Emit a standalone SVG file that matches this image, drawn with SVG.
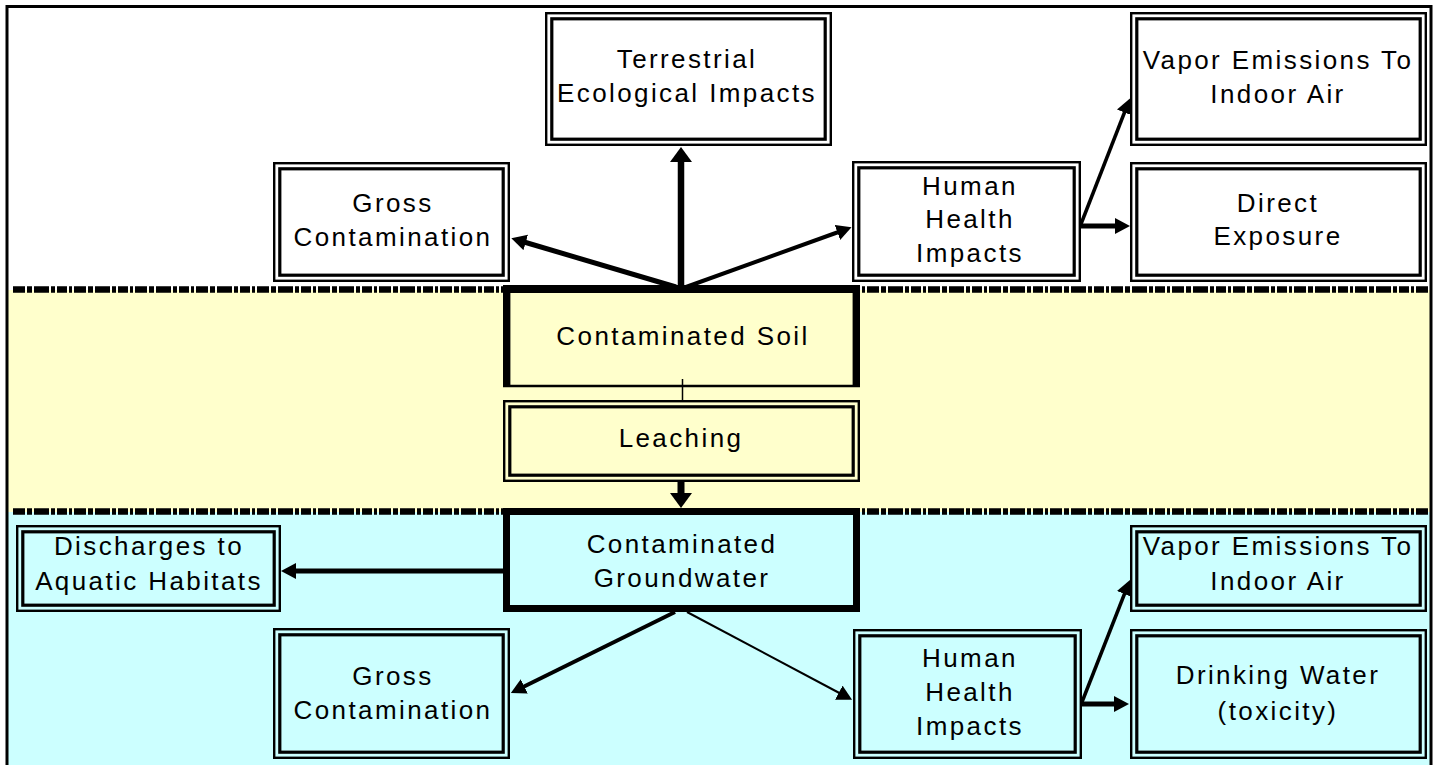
<svg xmlns="http://www.w3.org/2000/svg" width="1437" height="765" viewBox="0 0 1437 765">
<defs>
<style>
.o{fill:none;stroke:#000;stroke-width:2.4}
.i{fill:none;stroke:#000;stroke-width:3.2}
.w{fill:#fff}
.y{fill:#ffffcc}
.c{fill:#ccffff}
.t{font-family:"Liberation Sans",Arial,sans-serif;font-size:26px;letter-spacing:2.4px;text-anchor:middle;fill:#000}
.dash{fill:none;stroke:#000;stroke-width:6.5;stroke-dasharray:12 2 5 2 15 2 4 2 10 2 3 2}
.a{fill:none;stroke:#000}
</style>
<marker id="ah" markerUnits="userSpaceOnUse" markerWidth="18" markerHeight="18" refX="7" refY="8" orient="auto">
<path d="M0,0 L15,8 L0,16 z" fill="#000"/>
</marker>
<marker id="ahb" markerUnits="userSpaceOnUse" markerWidth="18" markerHeight="24" refX="7" refY="11" orient="auto">
<path d="M0,0 L15,11 L0,22 z" fill="#000"/>
</marker>
</defs>
<rect x="0" y="0" width="1437" height="765" fill="#fff"/>
<rect x="7" y="290" width="1424" height="222" class="y"/>
<rect x="7" y="512" width="1424" height="260" class="c"/>
<rect x="7" y="6.5" width="1424" height="800" fill="none" stroke="#000" stroke-width="3"/>
<line x1="13" y1="289.5" x2="1428" y2="289.5" class="dash"/>
<line x1="13" y1="511.5" x2="1428" y2="511.5" class="dash"/>

<g id="terrestrial">
<rect x="545" y="12" width="287" height="134" class="w"/>
<rect x="546.2" y="13.2" width="284.6" height="131.6" class="o"/>
<rect x="551.8" y="18.8" width="273.4" height="120.4" class="i"/>
<text class="t" x="687" y="68">Terrestrial</text>
<text class="t" x="687" y="102">Ecological Impacts</text>
</g>

<g id="gross-top">
<rect x="273" y="162" width="237" height="120" class="w"/>
<rect x="274.2" y="163.2" width="234.6" height="117.6" class="o"/>
<rect x="279.8" y="168.8" width="223.4" height="106.4" class="i"/>
<text class="t" x="393" y="212">Gross</text>
<text class="t" x="393" y="246">Contamination</text>
</g>

<g id="human-top">
<rect x="852" y="161" width="229" height="121" class="w"/>
<rect x="853.2" y="162.2" width="226.6" height="118.6" class="o"/>
<rect x="858.8" y="167.8" width="215.4" height="107.4" class="i"/>
<text class="t" x="970" y="195">Human</text>
<text class="t" x="970" y="228">Health</text>
<text class="t" x="970" y="262">Impacts</text>
</g>

<g id="vapor-top">
<rect x="1130" y="12" width="297" height="134" class="w"/>
<rect x="1131.2" y="13.2" width="294.6" height="131.6" class="o"/>
<rect x="1136.8" y="18.8" width="283.4" height="120.4" class="i"/>
<text class="t" x="1278" y="69">Vapor Emissions To</text>
<text class="t" x="1278" y="103">Indoor Air</text>
</g>

<g id="direct">
<rect x="1130" y="162" width="297" height="120" class="w"/>
<rect x="1131.2" y="163.2" width="294.6" height="117.6" class="o"/>
<rect x="1136.8" y="168.8" width="283.4" height="106.4" class="i"/>
<text class="t" x="1278" y="212">Direct</text>
<text class="t" x="1278" y="245">Exposure</text>
</g>

<g id="soil">
<rect x="503" y="285" width="357" height="102" class="y"/>
<line x1="506.7" y1="285" x2="506.7" y2="387" stroke="#000" stroke-width="7.4"/>
<line x1="856.3" y1="285" x2="856.3" y2="387" stroke="#000" stroke-width="7.4"/>
<line x1="503" y1="289" x2="860" y2="289" stroke="#000" stroke-width="8"/>
<line x1="503" y1="386" x2="860" y2="386" stroke="#000" stroke-width="2.6"/>
<text class="t" x="683" y="345">Contaminated Soil</text>
</g>

<g id="leaching">
<rect x="503" y="400" width="357" height="82" class="y"/>
<rect x="504.2" y="401.2" width="354.6" height="79.6" class="o"/>
<rect x="509.8" y="406.8" width="343.4" height="68.4" class="i"/>
<text class="t" x="681" y="447">Leaching</text>
</g>

<g id="groundwater">
<rect x="506.5" y="511.5" width="350" height="97" class="c" stroke="#000" stroke-width="7"/>
<text class="t" x="682" y="553">Contaminated</text>
<text class="t" x="682" y="587">Groundwater</text>
</g>

<g id="discharges">
<rect x="16" y="525" width="265" height="87" class="c"/>
<rect x="17.2" y="526.2" width="262.6" height="84.6" class="o"/>
<rect x="22.8" y="531.8" width="251.4" height="73.4" class="i"/>
<text class="t" x="149" y="555">Discharges to</text>
<text class="t" x="149" y="590">Aquatic Habitats</text>
</g>

<g id="gross-bottom">
<rect x="273" y="628" width="237" height="131" class="c"/>
<rect x="274.2" y="629.2" width="234.6" height="128.6" class="o"/>
<rect x="279.8" y="634.8" width="223.4" height="117.4" class="i"/>
<text class="t" x="393" y="685">Gross</text>
<text class="t" x="393" y="719">Contamination</text>
</g>

<g id="human-bottom">
<rect x="853" y="629" width="229" height="130" class="c"/>
<rect x="854.2" y="630.2" width="226.6" height="127.6" class="o"/>
<rect x="859.8" y="635.8" width="215.4" height="116.4" class="i"/>
<text class="t" x="970" y="667">Human</text>
<text class="t" x="970" y="701">Health</text>
<text class="t" x="970" y="735">Impacts</text>
</g>

<g id="vapor-bottom">
<rect x="1130" y="525" width="297" height="87" class="c"/>
<rect x="1131.2" y="526.2" width="294.6" height="84.6" class="o"/>
<rect x="1136.8" y="531.8" width="283.4" height="73.4" class="i"/>
<text class="t" x="1278" y="555">Vapor Emissions To</text>
<text class="t" x="1278" y="590">Indoor Air</text>
</g>

<g id="drinking">
<rect x="1130" y="629" width="297" height="130" class="c"/>
<rect x="1131.2" y="630.2" width="294.6" height="127.6" class="o"/>
<rect x="1136.8" y="635.8" width="283.4" height="116.4" class="i"/>
<text class="t" x="1278" y="684">Drinking Water</text>
<text class="t" x="1278" y="720">(toxicity)</text>
</g>

<g id="connectors">
<line x1="681" y1="286" x2="681" y2="155" class="a" stroke-width="6.5" marker-end="url(#ahb)"/>
<line x1="676" y1="287" x2="519" y2="240.5" class="a" stroke-width="5" marker-end="url(#ah)"/>
<line x1="686" y1="287" x2="844" y2="230" class="a" stroke-width="4" marker-end="url(#ah)"/>
<line x1="1081" y1="224" x2="1127" y2="106" class="a" stroke-width="3.5" marker-end="url(#ah)"/>
<line x1="1081" y1="226" x2="1122" y2="226" class="a" stroke-width="5" marker-end="url(#ah)"/>
<line x1="682.5" y1="379" x2="682.5" y2="400" class="a" stroke-width="1.5"/>
<line x1="681" y1="482" x2="681" y2="500" class="a" stroke-width="7" marker-end="url(#ahb)"/>
<line x1="503" y1="571" x2="289" y2="571" class="a" stroke-width="5" marker-end="url(#ah)"/>
<line x1="675" y1="612" x2="518" y2="689.5" class="a" stroke-width="4" marker-end="url(#ah)"/>
<line x1="687" y1="612" x2="845" y2="696" class="a" stroke-width="2" marker-end="url(#ah)"/>
<line x1="1082" y1="702" x2="1127" y2="587.5" class="a" stroke-width="3.5" marker-end="url(#ah)"/>
<line x1="1082" y1="704" x2="1121" y2="704" class="a" stroke-width="5" marker-end="url(#ah)"/>
</g>
</svg>
